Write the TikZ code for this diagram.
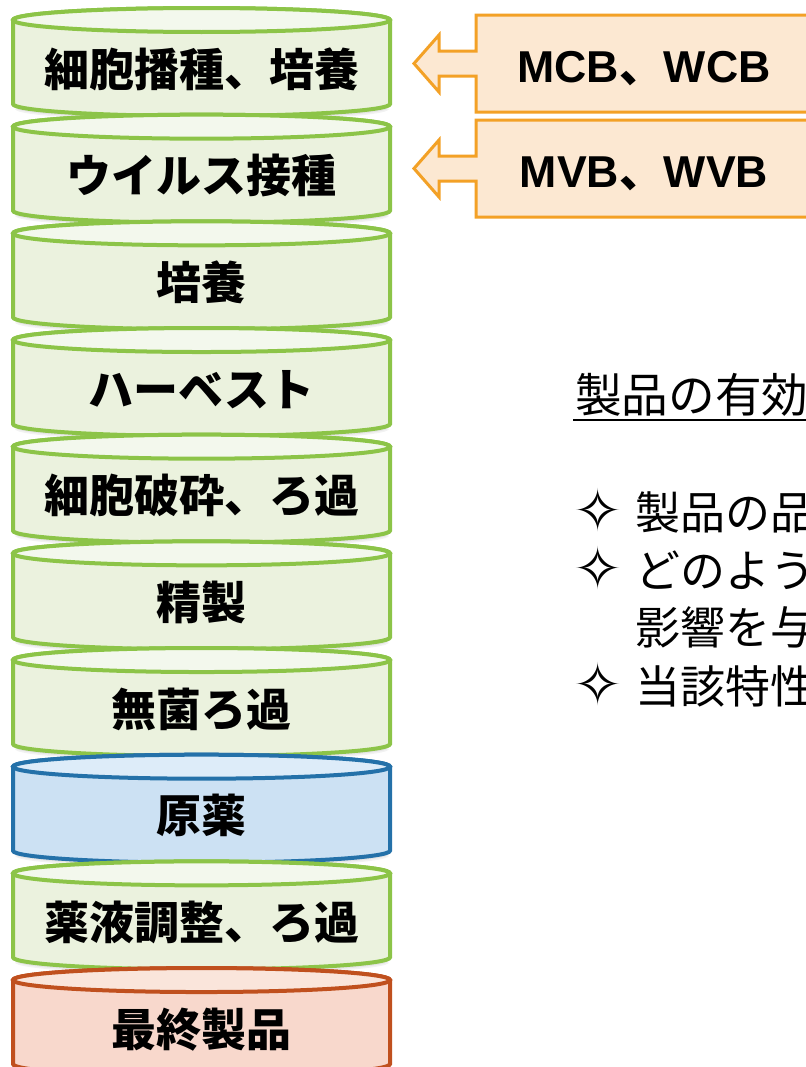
\documentclass[tikz,border=0pt]{standalone}
\usepackage{fontspec}
\setmainfont{Liberation Sans}
\newfontfamily\jp{Noto Sans CJK JP}
\newfontfamily\djv{DejaVu Sans}
\definecolor{gedge}{RGB}{140,196,72}
\definecolor{gfill}{RGB}{235,242,222}
\definecolor{gtop}{RGB}{243,248,237}
\definecolor{bedge}{RGB}{36,113,169}
\definecolor{bfill}{RGB}{204,225,243}
\definecolor{btop}{RGB}{221,236,249}
\definecolor{redge}{RGB}{192,80,30}
\definecolor{rfill}{RGB}{248,216,204}
\definecolor{rtop}{RGB}{250,229,219}
\definecolor{oedge}{RGB}{243,161,38}
\definecolor{ofill}{RGB}{252,232,210}
\tikzset{
  cyltext/.style={inner sep=0pt, anchor=base, font=\jp\bfseries\fontsize{33.75}{40}\selectfont},
  banktext/.style={inner sep=0pt, anchor=base, font=\bfseries\fontsize{33.5}{40}\selectfont},
  bodytext/.style={inner sep=0pt, anchor=base west, font=\jp\fontsize{33.75}{40}\selectfont},
  bullettext/.style={inner sep=0pt, anchor=base west, font=\djv\fontsize{44}{50}\selectfont},
  callout/.style={draw=oedge, fill=ofill, line width=2.25pt, line join=miter},
}
\newcommand\drawcyl[6]{%
  \pgfmathsetmacro\cy{20+106.67*#1}%
  \pgfmathsetmacro\by{\cy+84}%
  \foreach \k in {1,...,5}{%
    \fill[black,opacity=0.05] (15,\by-3+\k*1.6) arc[start angle=180,end angle=0,x radius=187,y radius=12] -- cycle;
  }%
  \filldraw[draw=#4, fill=#5, line width=3pt] (13,\cy) -- (13,\by)
     arc[start angle=180,end angle=0,x radius=188.5,y radius=12] -- (390,\cy)
     arc[start angle=0,end angle=-180,x radius=188.5,y radius=12] -- cycle;
  \filldraw[draw=#4, fill=#6, line width=3pt] (201.5,\cy) ellipse [x radius=188.5, y radius=12];
  \node[cyltext] (#2) at (201.5,\cy+66) {#3};
}
\begin{document}
\begin{tikzpicture}[x=0.75pt,y=-0.75pt]
\useasboundingbox (0,0) rectangle (806,1067);
\clip (0,0) rectangle (806,1067);
\fill[white] (0,0) rectangle (806,1067);

\drawcyl{0}{c1}{細胞播種、培養}{gedge}{gfill}{gtop}
\drawcyl{1}{c2}{ウイルス接種}{gedge}{gfill}{gtop}
\drawcyl{2}{c3}{培養}{gedge}{gfill}{gtop}
\drawcyl{3}{c4}{ハーベスト}{gedge}{gfill}{gtop}
\drawcyl{4}{c5}{細胞破砕、ろ過}{gedge}{gfill}{gtop}
\drawcyl{5}{c6}{精製}{gedge}{gfill}{gtop}
\drawcyl{6}{c7}{無菌ろ過}{gedge}{gfill}{gtop}
\drawcyl{7}{c8}{原薬}{bedge}{bfill}{btop}
\drawcyl{8}{c9}{薬液調整、ろ過}{gedge}{gfill}{gtop}
\drawcyl{9}{c10}{最終製品}{redge}{rfill}{rtop}

% callout boxes with left arrows
\path[callout] (476,15) -- (830,15) -- (830,112) -- (476,112) -- (476,76)
   -- (439,76) -- (439,92) -- (414,63.5) -- (439,35) -- (439,51) -- (476,51) -- cycle;
\node[banktext] (mcb) at (644,82) {MCB{\jp 、}WCB};

\path[callout] (476,120) -- (830,120) -- (830,217) -- (476,217) -- (476,181)
   -- (439,181) -- (439,197) -- (414,168.5) -- (439,140) -- (439,156) -- (476,156) -- cycle;
\node[banktext] (mvb) at (644,187) {MVB{\jp 、}WVB};

% right text
\node[bodytext, font=\jp\fontsize{35}{40}\selectfont] (head) at (575,412) {製品の有効};
\coordinate (ul1) at (573,420);
\coordinate (ul2) at (830,420);
\draw[line width=1.6pt] (ul1) -- (ul2);

\node[bullettext] (b1) at (573,531) {✧};
\node[bodytext] (t1) at (635,529) {製品の品};
\node[bullettext] (b2) at (573,589) {✧};
\node[bodytext] (t2) at (635,587) {どのような};
\node[bodytext] (t3) at (635,644) {影響を与};
\node[bullettext] (b4) at (573,705) {✧};
\node[bodytext] (t4) at (635,703) {当該特性};
\end{tikzpicture}
\end{document}
